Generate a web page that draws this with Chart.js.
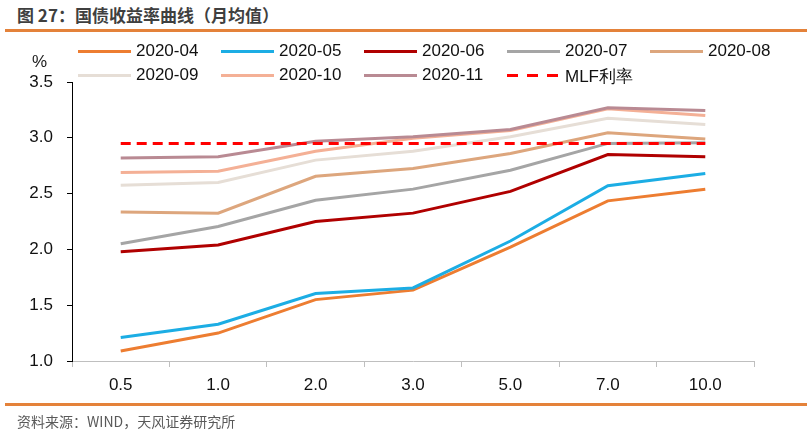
<!DOCTYPE html>
<html>
<head>
<meta charset="utf-8">
<script src="https://cdn.jsdelivr.net/npm/chart.js@4/dist/chart.umd.min.js"></script>
<style>
    body { margin: 0; background: #fff; }
    #wrap { position: relative; width: 807px; height: 431px; overflow: hidden; font-family: "Liberation Sans", Arial, sans-serif; }
    #title { position: absolute; left: 17px; top: 2px; font: bold 17px "Noto Sans CJK SC", sans-serif; color: #3f3f3f; }
    .rule { position: absolute; left: 5px; width: 802px; height: 3px; background: #E4823A; }
    #source { position: absolute; left: 17px; top: 411px; font: 14px "Noto Sans CJK SC", sans-serif; color: #595959; }
    #unit { position: absolute; left: 32px; top: 52px; font-size: 17px; color: #1a1a1a; }
    #chartBox { position: absolute; left: 0; top: 0; width: 807px; height: 431px; }
    .lg { position: absolute; height: 20px; font-size: 17px; color: #111; white-space: nowrap; }
    .lg span.mark { position: absolute; left: 0; top: 9px; width: 53px; height: 3px; }
    .lg span.txt { position: absolute; left: 58px; top: 0; }
</style>
</head>
<body>
<div id="wrap">
    <div id="title">图 27：国债收益率曲线（月均值）</div>
    <div class="rule" style="top:29px"></div>
    <div id="chartBox"><canvas id="lineChart"></canvas></div>
    <div id="unit">%</div>
    <div id="legend"></div>
    <div class="rule" style="top:403px"></div>
    <div id="source">资料来源：WIND，天风证券研究所</div>
</div>
<script>
var categories = ['0.5', '1.0', '2.0', '3.0', '5.0', '7.0', '10.0'];
var seriesNames = ['2020-04', '2020-05', '2020-06', '2020-07', '2020-08', '2020-09', '2020-10', '2020-11', 'MLF利率'];

var y202004 = [1.09, 1.25, 1.55, 1.635, 2.02, 2.435, 2.54];
var y202005 = [1.21, 1.33, 1.605, 1.655, 2.075, 2.57, 2.68];
var y202006 = [1.98, 2.04, 2.25, 2.325, 2.52, 2.85, 2.83];
var y202007 = [2.05, 2.205, 2.44, 2.54, 2.71, 2.95, 2.955];
var y202008 = [2.335, 2.325, 2.655, 2.725, 2.86, 3.045, 2.99];
var y202009 = [2.575, 2.60, 2.80, 2.88, 3.01, 3.175, 3.12];
var y202010 = [2.69, 2.70, 2.88, 2.995, 3.065, 3.26, 3.20];
var y202011 = [2.82, 2.83, 2.97, 3.01, 3.075, 3.27, 3.245];
var mlfRate = [2.95, 2.95, 2.95, 2.95, 2.95, 2.95, 2.95];

var yTicks = [1.0, 1.5, 2.0, 2.5, 3.0, 3.5];

var seriesValues = [y202004, y202005, y202006, y202007, y202008, y202009, y202010, y202011, mlfRate];
var seriesColors = ['#ED7D31', '#1CADE4', '#B00000', '#A5A5A5', '#DDA67D', '#E6DED6', '#F4B096', '#B98A93', '#FF0000'];

function buildDatasets() {
    var sets = [];
    for (var i = 0; i < seriesNames.length; i++) {
        var isMlf = (i == seriesNames.length - 1);
        sets.push({
            label: seriesNames[i],
            data: seriesValues[i],
            borderColor: seriesColors[i],
            backgroundColor: seriesColors[i],
            borderWidth: 3,
            borderDash: isMlf ? [10, 6] : [],
            pointRadius: 0,
            tension: 0,
            fill: false,
            order: isMlf ? 0 : (seriesNames.length - i)
        });
    }
    return sets;
}

// legend laid out as a 5-column grid like the original
function buildLegend() {
    var html = '';
    for (var i = 0; i < seriesNames.length; i++) {
        var col = i % 5;
        var row = Math.floor(i / 5);
        var left = 78 + col * 143;
        var top = 41 + row * 24;
        var bg = seriesColors[i];
        if (i == seriesNames.length - 1) {
            bg = 'repeating-linear-gradient(90deg,' + seriesColors[i] + ' 0 11px, transparent 11px 20px)';
        }
        html += '<div class="lg" style="left:' + left + 'px;top:' + top + 'px">'
            + '<span class="mark" style="background:' + bg + '"></span>'
            + '<span class="txt">' + seriesNames[i] + '</span></div>';
    }
    document.getElementById('legend').innerHTML = html;
}

function loadChart() {
    var ctx = document.getElementById('lineChart');
    var chart = new Chart(ctx, {
        type: 'line',
        data: { labels: categories, datasets: buildDatasets() },
        options: {
            responsive: false,
            animation: false,
            devicePixelRatio: 1,
            layout: { padding: { top: 82, right: 53, bottom: 0, left: 0 } },
            plugins: { legend: { display: false }, tooltip: { enabled: false } },
            scales: {
                x: {
                    offset: true,
                    grid: { offset: true, drawOnChartArea: false, tickLength: 6, color: '#BFBFBF' },
                    border: { color: '#BFBFBF', width: 1 },
                    ticks: { color: '#111', font: { size: 17, family: 'Liberation Sans' }, padding: 8, maxRotation: 0 },
                    afterFit: function (scale) { scale.height = 70; }
                },
                y: {
                    min: yTicks[0],
                    max: yTicks[yTicks.length - 1],
                    afterBuildTicks: function (scale) {
                        scale.ticks = yTicks.map(function (v) { return { value: v }; });
                    },
                    grid: { drawOnChartArea: false, tickLength: 5, color: '#000' },
                    border: { color: '#000', width: 1 },
                    ticks: {
                        color: '#111',
                        font: { size: 17, family: 'Liberation Sans' },
                        padding: 14,
                        callback: function (v) { return Number(v).toFixed(1); }
                    },
                    afterFit: function (scale) { scale.width = 72; }
                }
            }
        }
    });
    return chart;
}

var cv = document.getElementById('lineChart');
cv.width = 807;
cv.height = 431;
buildLegend();
loadChart();
</script>
</body>
</html>
